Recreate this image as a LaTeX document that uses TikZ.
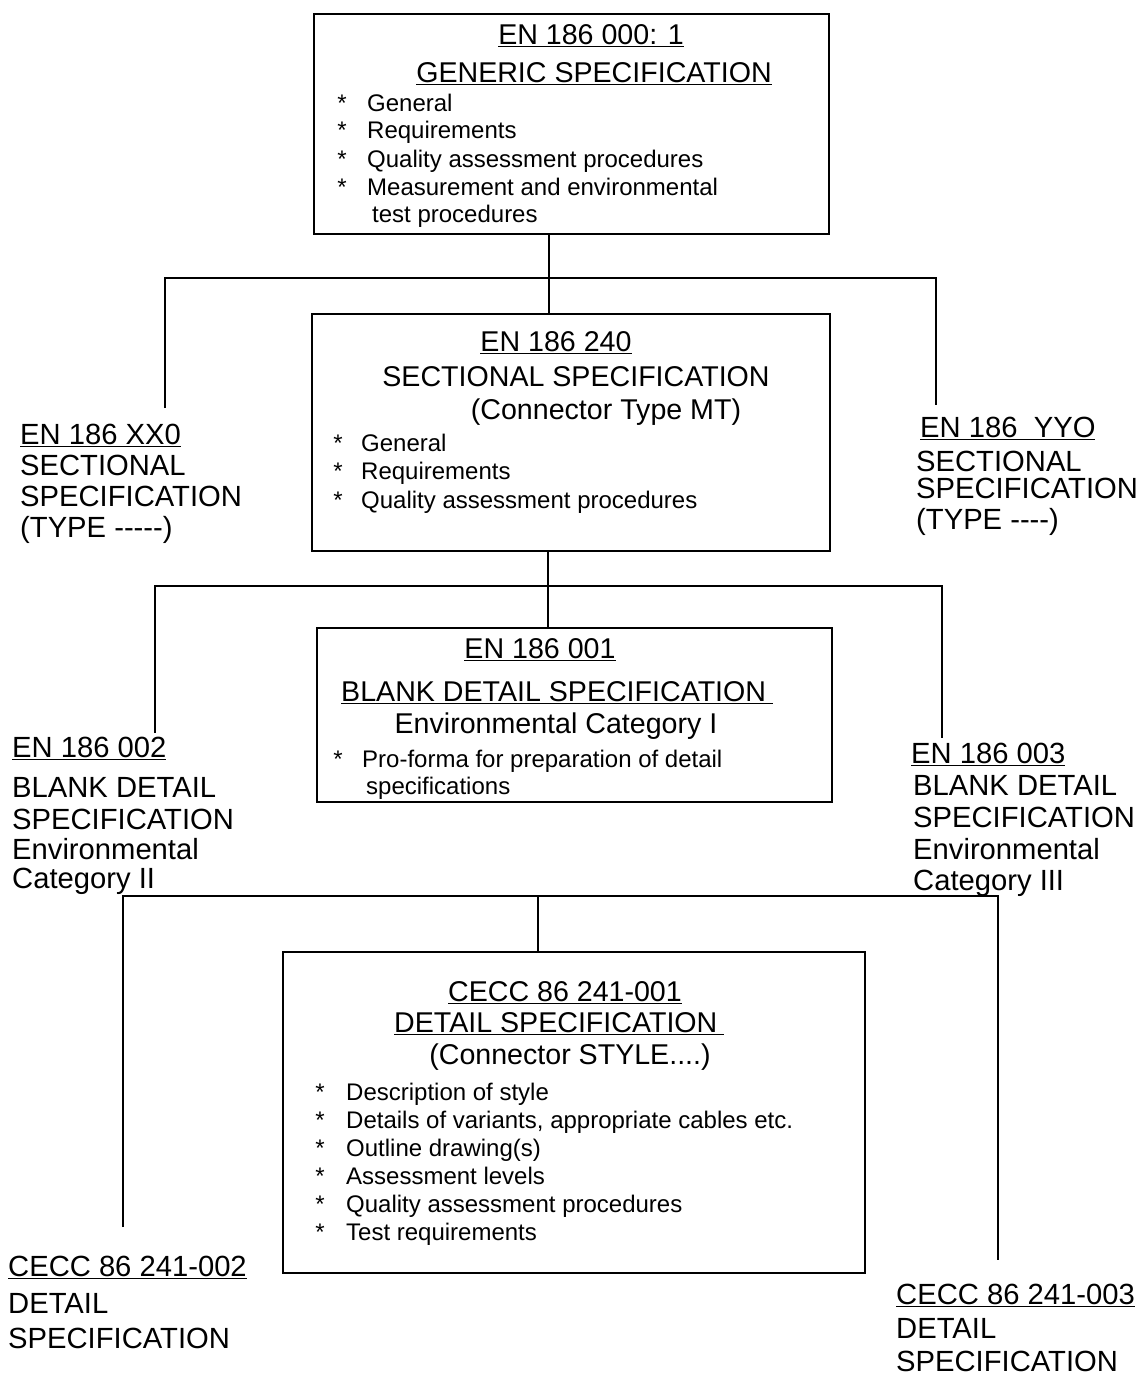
\documentclass[tikz,border=0pt]{standalone}
\usepackage{fontspec}
\setmainfont{Liberation Sans}
\newcommand\myul[1]{\setbox0\hbox{#1}\rlap{\rule[-3.4pt]{\wd0}{1.6pt}}\box0}
\begin{document}
\begin{tikzpicture}[x=1pt,y=-1pt,
  box/.style={draw,line width=1.8pt,inner sep=0pt,anchor=north west},
  conn/.style={line width=1.6pt},
  ttl/.style={anchor=base,inner sep=0pt,font=\fontsize{28.6}{30}\selectfont},
  ttlw/.style={anchor=base west,inner sep=0pt,font=\fontsize{28.6}{30}\selectfont},
  txt/.style={anchor=base west,inner sep=0pt,font=\fontsize{24}{28}\selectfont},
  ast/.style={anchor=base,inner sep=0pt,font=\fontsize{24}{28}\selectfont},
  lbl/.style={anchor=base west,inner sep=0pt,font=\fontsize{29.2}{30}\selectfont},
]
\useasboundingbox[fill=white] (0,0) rectangle (1144,1376);

% ---------- boxes ----------
\node[box,minimum width=515pt,minimum height=220pt] (g) at (313,13) {};
\node[box,minimum width=518pt,minimum height=237pt] (s) at (311,313) {};
\node[box,minimum width=515pt,minimum height=174pt] (b) at (316,627) {};
\node[box,minimum width=582pt,minimum height=321pt] (d) at (282,951) {};

% ---------- generic specification ----------
\node[ttl] (g1) at (591,44) {\myul{EN 186 000: 1}};
\node[ttl] (g2) at (594,82) {\myul{GENERIC SPECIFICATION}};
\node[ast] (ga1) at (342,111) {*}; \node[txt] (gt1) at (367,111) {General};
\node[ast] (ga2) at (342,138) {*}; \node[txt] (gt2) at (367,138) {Requirements};
\node[ast] (ga3) at (342,167) {*}; \node[txt] (gt3) at (367,167) {Quality assessment procedures};
\node[ast] (ga4) at (342,195) {*}; \node[txt] (gt4) at (367,195) {Measurement and environmental};
\node[txt] (gt5) at (372,222) {test procedures};

% ---------- sectional specification ----------
\node[ttl] (s1) at (556,351) {\myul{EN 186 240}};
\node[ttl] (s2) at (576,386) {SECTIONAL SPECIFICATION};
\node[ttl] (s3) at (606,419) {(Connector Type MT)};
\node[ast] (sa1) at (338,451) {*}; \node[txt] (st1) at (361,451) {General};
\node[ast] (sa2) at (338,479) {*}; \node[txt] (st2) at (361,479) {Requirements};
\node[ast] (sa3) at (338,508) {*}; \node[txt] (st3) at (361,508) {Quality assessment procedures};

% ---------- side labels, level 2 ----------
\node[lbl] (xx0) at (20,444) {\myul{EN 186 XX0}};
\node[lbl] (xx1) at (20,475) {SECTIONAL};
\node[lbl] (xx2) at (20,506) {SPECIFICATION};
\node[lbl] (xx3) at (20,537) {(TYPE -{}-{}-{}-{}-)};
\node[lbl] (yy0) at (920,437) {\myul{EN 186\ \ YYO}};
\node[lbl] (yy1) at (916,471) {SECTIONAL};
\node[lbl] (yy2) at (916,498) {SPECIFICATION};
\node[lbl] (yy3) at (916,529) {(TYPE -{}-{}-{}-)};

% ---------- blank detail specification ----------
\node[ttl] (b1) at (540,658) {\myul{EN 186 001}};
\node[ttlw] (b2) at (341,701) {\myul{BLANK DETAIL SPECIFICATION\hspace{0.25em}}};
\node[ttl] (b3) at (556,733) {Environmental Category I};
\node[ast] (ba1) at (338,767) {*}; \node[txt] (bt1) at (362,767) {Pro-forma for preparation of detail};
\node[txt] (bt2) at (366,794) {specifications};

% ---------- side labels, level 3 ----------
\node[lbl] (l20) at (12,757) {\myul{EN 186 002}};
\node[lbl] (l21) at (12,797) {BLANK DETAIL};
\node[lbl] (l22) at (12,829) {SPECIFICATION};
\node[lbl] (l23) at (12,859) {Environmental};
\node[lbl] (l24) at (12,888) {Category II};
\node[lbl] (l30) at (911,763) {\myul{EN 186 003}};
\node[lbl] (l31) at (913,795) {BLANK DETAIL};
\node[lbl] (l32) at (913,827) {SPECIFICATION};
\node[lbl] (l33) at (913,859) {Environmental};
\node[lbl] (l34) at (913,890) {Category III};

% ---------- detail specification ----------
\node[ttl] (d1) at (565,1001) {\myul{CECC 86 241-001}};
\node[ttlw] (d2) at (394,1032) {\myul{DETAIL SPECIFICATION\hspace{0.25em}}};
\node[ttl] (d3) at (570,1064) {(Connector STYLE....)};
\node[ast] (da1) at (320,1100) {*}; \node[txt] (dt1) at (346,1100) {Description of style};
\node[ast] (da2) at (320,1128) {*}; \node[txt] (dt2) at (346,1128) {Details of variants, appropriate cables etc.};
\node[ast] (da3) at (320,1156) {*}; \node[txt] (dt3) at (346,1156) {Outline drawing(s)};
\node[ast] (da4) at (320,1184) {*}; \node[txt] (dt4) at (346,1184) {Assessment levels};
\node[ast] (da5) at (320,1212) {*}; \node[txt] (dt5) at (346,1212) {Quality assessment procedures};
\node[ast] (da6) at (320,1240) {*}; \node[txt] (dt6) at (346,1240) {Test requirements};

% ---------- bottom labels ----------
\node[lbl] (c20) at (8,1276) {\myul{CECC 86 241-002}};
\node[lbl] (c21) at (8,1313) {DETAIL};
\node[lbl] (c22) at (8,1348) {SPECIFICATION};
\node[lbl] (c30) at (896,1304) {\myul{CECC 86 241-003}};
\node[lbl] (c31) at (896,1338) {DETAIL};
\node[lbl] (c32) at (896,1371) {SPECIFICATION};

% ---------- connectors ----------
\coordinate (j1) at (549,278);
\coordinate (e1l) at (165,408);
\coordinate (e1r) at (936,405);
\draw[conn] (g.south -| j1) -- (s.north -| j1);
\draw[conn] (e1l) |- (e1r |- j1) -- (e1r);

\coordinate (j2) at (548,586);
\coordinate (e2l) at (155,733);
\coordinate (e2r) at (942,738);
\draw[conn] (s.south -| j2) -- (b.north -| j2);
\draw[conn] (e2l) |- (e2r |- j2) -- (e2r);

\coordinate (j3) at (538,896);
\coordinate (e3l) at (123,1227);
\coordinate (e3r) at (998,1260);
\draw[conn] (j3) -- (d.north -| j3);
\draw[conn] (e3l) |- (e3r |- j3) -- (e3r);
\end{tikzpicture}
\end{document}
